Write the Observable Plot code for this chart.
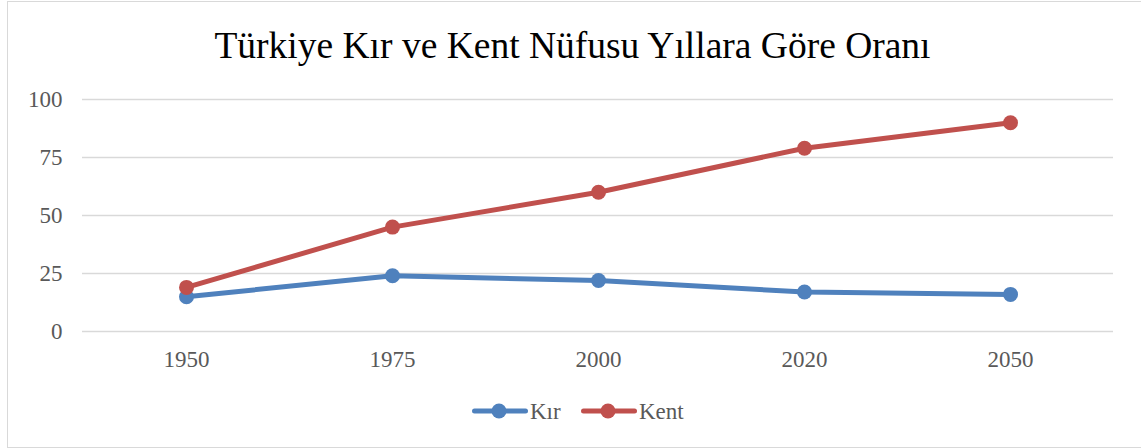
<!DOCTYPE html>
<html>
<head>
<meta charset="utf-8">
<script src="https://cdn.jsdelivr.net/npm/d3@7"></script>
<script src="https://cdn.jsdelivr.net/npm/@observablehq/plot@0.6"></script>
<style>
  html, body { margin: 0; padding: 0; background: #fff; }
  #wrap { position: relative; width: 1141px; height: 448px; overflow: hidden; font-family: "Liberation Serif", "Times New Roman", serif; }
  #frame { position: absolute; left: 7px; top: 1px; width: 1150px; height: 447px; box-sizing: border-box; border: 1.5px solid #d9d9d9; }
  #title { position: absolute; left: 0; top: 27px; width: 1141px; text-align: center; font-size: 37.5px; line-height: 37px; color: #000; padding-left: 4px; box-sizing: border-box; }
  #chart { position: absolute; left: 0; top: 90px; }
  #legend { position: absolute; left: 0; top: 395px; width: 1141px; height: 32px; }
</style>
</head>
<body>
<div id="wrap">
  <div id="frame"></div>
  <div id="title">Türkiye Kır ve Kent Nüfusu Yıllara Göre Oranı</div>
  <div id="chart"></div>
  <div id="legend"></div>
</div>
<script>
const years = ["1950", "1975", "2000", "2020", "2050"];
const kir = [15, 24, 22, 17, 16];
const kent = [19, 45, 60, 79, 90];
const seriesNames = ["Kır", "Kent"];
const seriesColors = ["#4f81bd", "#c0504d"];
const yTicks = [0, 25, 50, 75, 100];

const rows = [];
[kir, kent].forEach((vals, si) => {
  years.forEach((y, i) => rows.push({ year: y, value: vals[i], series: seriesNames[si] }));
});

const marks = [Plot.gridY(yTicks, { stroke: "#d9d9d9", strokeOpacity: 1, strokeWidth: 1.5 })];
seriesNames.forEach((s, si) => {
  const d = rows.filter(r => r.series === s);
  marks.push(Plot.line(d, { x: "year", y: "value", stroke: seriesColors[si], strokeWidth: 5, strokeLinecap: "round", strokeLinejoin: "round" }));
  marks.push(Plot.dot(d, { x: "year", y: "value", fill: seriesColors[si], r: 7.5 }));
});
marks.push(Plot.axisY(yTicks, { tickSize: 0, tickPadding: 20, fontSize: 23, fill: "#595959", label: null }));
marks.push(Plot.axisX({ tickSize: 0, tickPadding: 19, fontSize: 23, fill: "#595959", label: null }));

const chart = Plot.plot({
  width: 1141,
  height: 290,
  marginTop: 9,
  marginBottom: 49,
  marginLeft: 82,
  marginRight: 28,
  style: { fontFamily: '"Liberation Serif", "Times New Roman", serif', background: "transparent", overflow: "visible" },
  x: { type: "point", domain: years, padding: 0.5 },
  y: { domain: [0, 100] },
  marks
});
document.getElementById("chart").appendChild(chart);

// Legend
const legend = d3.select("#legend").append("svg").attr("width", 1141).attr("height", 32)
  .style("font-family", '"Liberation Serif", "Times New Roman", serif');
const legendX = [472, 581];
seriesNames.forEach((s, i) => {
  const g = legend.append("g").attr("transform", `translate(${legendX[i]},16)`);
  g.append("line").attr("x1", 2.5).attr("x2", 53.5).attr("y1", 0).attr("y2", 0)
    .attr("stroke", seriesColors[i]).attr("stroke-width", 5).attr("stroke-linecap", "round");
  g.append("circle").attr("cx", 27).attr("cy", 0).attr("r", 7.5).attr("fill", seriesColors[i]);
  g.append("text").attr("x", 58).attr("y", 8).attr("font-size", 23).attr("fill", "#595959").text(s);
});
</script>
</body>
</html>
